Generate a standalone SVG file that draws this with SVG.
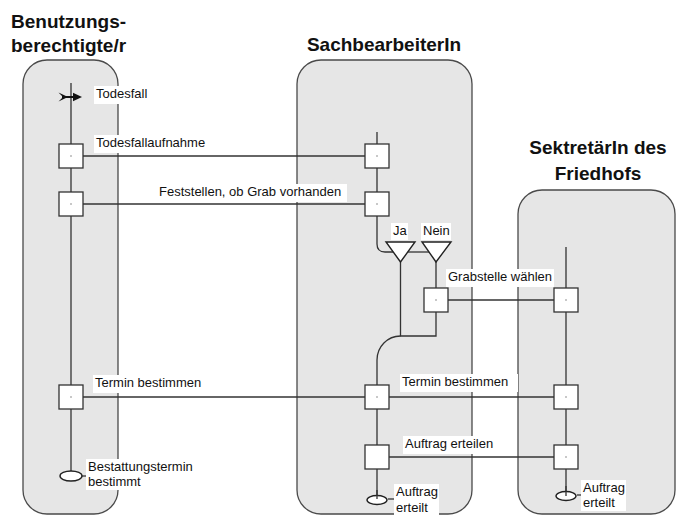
<svg xmlns="http://www.w3.org/2000/svg" width="676" height="515" viewBox="0 0 676 515">
  <style>
    .lane { fill: #e6e6e6; stroke: #4a4a4a; stroke-width: 1.3; }
    .title { font-family: "Liberation Sans", Arial, sans-serif; font-size: 19px; font-weight: bold; fill: #111; }
    .lbl { font-family: "Liberation Sans", Arial, sans-serif; font-size: 13px; fill: #111; }
    .bg { fill: #ffffff; }
    .flow { fill: none; stroke: #333; stroke-width: 1.3; }
    .box { fill: #ffffff; stroke: #333; stroke-width: 1.3; }
    .dot { fill: #666; }
    .end { fill: #ffffff; stroke: #222; stroke-width: 1.4; }
    .tri { fill: #ffffff; stroke: #222; stroke-width: 1.4; stroke-linejoin: miter; }
  </style>
  <defs>
    <symbol id="step" overflow="visible">
      <rect class="box" x="-12" y="-12" width="24" height="24"/>
      <rect class="dot" x="-0.6" y="-0.6" width="1.2" height="1.2"/>
    </symbol>
  </defs>

  <rect width="676" height="515" fill="#ffffff"/>

  <!-- swimlanes -->
  <g id="lane-benutzer">
    <rect class="lane" x="23" y="60" width="95" height="454" rx="24" ry="24"/>
    <text class="title" x="11" y="28">Benutzungs-</text>
    <text class="title" x="11" y="52">berechtigte/r</text>
  </g>
  <g id="lane-sachbearbeiter">
    <rect class="lane" x="297" y="60" width="175" height="454" rx="24" ry="24"/>
    <text class="title" x="384" y="51" text-anchor="middle">SachbearbeiterIn</text>
  </g>
  <g id="lane-sekretaer">
    <rect class="lane" x="518" y="190" width="157" height="324" rx="24" ry="24"/>
    <text class="title" x="598" y="154" text-anchor="middle">SektretärIn des</text>
    <text class="title" x="598" y="180" text-anchor="middle">Friedhofs</text>
  </g>

  <!-- connectors -->
  <g id="connectors" class="flow">
    <!-- lane flow lines -->
    <path d="M71,83 V471"/>
    <path d="M377,132 V244 Q377,252 385,252 H393"/>
    <path d="M408,252 H429"/>
    <path d="M400.5,262 V336 H436 V262"/>
    <path d="M400.5,336 A23.5,24 0 0 0 377,360 V500"/>
    <path d="M566,247 V496"/>
    <!-- message lines -->
    <path d="M83,156 H365"/>
    <path d="M83,204 H365"/>
    <path d="M448,300 H554"/>
    <path d="M83,397 H554"/>
    <path d="M389,457 H554"/>
    <!-- end-state ticks -->
    <path d="M82,476 H87"/>
    <path d="M388,499 H394"/>
    <path d="M577,495 H582"/>
  </g>

  <!-- start event -->
  <g id="start-todesfall">
    <path d="M58.5,92.5 L68,97 L58.5,101.5 L63,97 Z" fill="#111"/>
    <path d="M62,97 H76" stroke="#111" stroke-width="2"/>
    <path d="M73,92.8 L82,97 L73,101.2 Z" fill="#111"/>
    <rect class="bg" x="94" y="86" width="57" height="18"/>
    <text class="lbl" x="96" y="98">Todesfall</text>
  </g>

  <!-- activities -->
  <g id="todesfallaufnahme">
    <rect class="bg" x="94" y="135" width="115" height="18"/>
    <text class="lbl" x="96" y="147">Todesfallaufnahme</text>
    <use href="#step" x="71" y="156"/>
    <use href="#step" x="377" y="156"/>
  </g>
  <g id="grab-pruefen">
    <rect class="bg" x="157" y="184" width="190" height="18"/>
    <text class="lbl" x="159" y="196">Feststellen, ob Grab vorhanden</text>
    <use href="#step" x="71" y="204"/>
    <use href="#step" x="377" y="204"/>
  </g>
  <g id="entscheidung-ja">
    <rect class="bg" x="391" y="223" width="17" height="17"/>
    <text class="lbl" x="393" y="235">Ja</text>
    <path class="tri" d="M386,242 H415 L400.5,262 Z"/>
  </g>
  <g id="entscheidung-nein">
    <rect class="bg" x="421" y="223" width="30" height="17"/>
    <text class="lbl" x="423" y="235">Nein</text>
    <path class="tri" d="M422,242 H451 L436,262 Z"/>
  </g>
  <g id="grabstelle-waehlen">
    <rect class="bg" x="446" y="269" width="108" height="18"/>
    <text class="lbl" x="448" y="281">Grabstelle wählen</text>
    <use href="#step" x="436" y="300"/>
    <use href="#step" x="566" y="300"/>
  </g>
  <g id="termin-bestimmen">
    <rect class="bg" x="93" y="375" width="112" height="18"/>
    <text class="lbl" x="95" y="387">Termin bestimmen</text>
    <rect class="bg" x="400" y="374" width="118" height="18"/>
    <text class="lbl" x="402" y="386">Termin bestimmen</text>
    <use href="#step" x="71" y="397"/>
    <use href="#step" x="377" y="397"/>
    <use href="#step" x="566" y="397"/>
  </g>
  <g id="auftrag-erteilen">
    <rect class="bg" x="403" y="436" width="92" height="18"/>
    <text class="lbl" x="405" y="448">Auftrag erteilen</text>
    <rect class="box" x="365" y="445" width="24" height="24"/>
    <use href="#step" x="566" y="457"/>
  </g>

  <!-- end states -->
  <g id="ende-bestattungstermin">
    <ellipse class="end" cx="71" cy="476" rx="11" ry="5"/>
    <rect class="bg" x="86" y="459" width="107" height="31"/>
    <text class="lbl" x="88" y="471">Bestattungstermin</text>
    <text class="lbl" x="88" y="486">bestimmt</text>
  </g>
  <g id="ende-auftrag-sachbearbeiter">
    <ellipse class="end" cx="377" cy="500" rx="10" ry="4.5"/>
    <path d="M377,490 V499" stroke="#333" stroke-width="1.3"/>
    <rect class="bg" x="394" y="484" width="45" height="31"/>
    <text class="lbl" x="396" y="496">Auftrag</text>
    <text class="lbl" x="396" y="512">erteilt</text>
  </g>
  <g id="ende-auftrag-sekretaer">
    <ellipse class="end" cx="566" cy="496" rx="10" ry="4.5"/>
    <path d="M566,486 V496" stroke="#333" stroke-width="1.3"/>
    <rect class="bg" x="581" y="480" width="45" height="31"/>
    <text class="lbl" x="583" y="492">Auftrag</text>
    <text class="lbl" x="583" y="507">erteilt</text>
  </g>
</svg>
